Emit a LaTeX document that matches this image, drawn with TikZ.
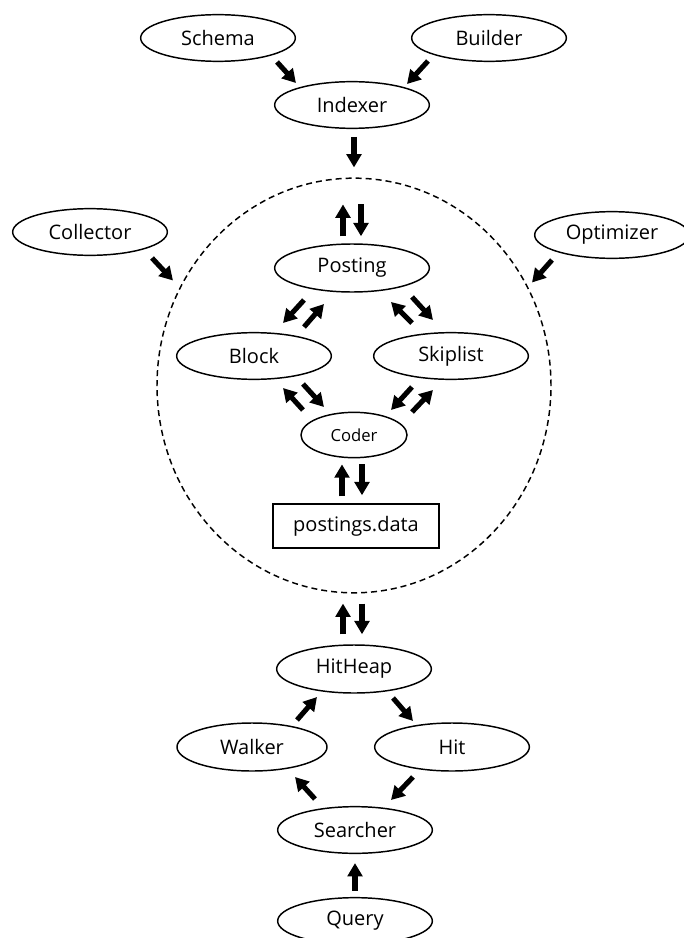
\documentclass[tikz,border=0pt]{standalone}
\usepackage{fontspec}
\setmainfont{Open Sans}
\usepackage{tikz}
\usetikzlibrary{shapes.geometric,arrows.meta}

\begin{document}
\begin{tikzpicture}[x=0.75pt, y=-0.75pt,
    box/.style={ellipse, draw, line width=1.1pt, minimum width=116pt, minimum height=35pt, inner sep=0pt, font=\fontsize{15pt}{18pt}\selectfont},
    filebox/.style={rectangle, draw, line width=1.1pt, minimum width=124.5pt, minimum height=33pt, inner sep=0pt, font=\fontsize{15pt}{18pt}\selectfont},
    arr/.style={-{Triangle[length=10pt,width=11pt]}, line width=3.8pt}]
    \useasboundingbox (0,0) rectangle (683,938);

    % draw nodes
    \node[box] (schema) at (218,38) {Schema};
    \node[box] (builder) at (489,38) {Builder};
    \node[box] (indexer) at (352,105) {Indexer};
    \node[box] (collector) at (90,232) {Collector};
    \node[box] (optimizer) at (612,235) {Optimizer};

    % the store, with what sits in it
    \node[ellipse, draw, dash pattern=on 4.5pt off 3pt, line width=1.1pt, minimum width=295.5pt, minimum height=311pt] (store) at (354,385.5) {};
    \node[box, minimum height=36pt] (posting) at (352,268) {Posting};
    \node[box] (block) at (254,356) {Block};
    \node[box] (skiplist) at (451,356) {Skiplist};
    \node[box, minimum width=79.5pt, minimum height=34pt, font=\fontsize{12.5pt}{15pt}\selectfont] (coder) at (354,435) {Coder};
    \node[filebox] (data) at (356,526) {postings.data};

    % searching
    \node[box, minimum height=36pt] (hitheap) at (354,669) {HitHeap};
    \node[box, minimum width=112.5pt, minimum height=36pt] (walker) at (252,747) {Walker};
    \node[box, minimum height=36pt] (hit) at (452,747) {Hit};
    \node[box] (searcher) at (355,830) {Searcher};
    \node[box] (query) at (355,921) {Query};

    % draw arrows
    \draw[arr] ([shift={(59,24)}]schema.center) -- ([shift={(-56,-22)}]indexer.center);
    \draw[arr] ([shift={(-61,23)}]builder.center) -- ([shift={(55,-21)}]indexer.center);
    \draw[arr] ([shift={(2,32)}]indexer.center) -- ([shift={(0,-10)}]store.north);
    \draw[arr] ([shift={(62,26)}]collector.center) -- ([shift={(-181,-105)}]store.center);
    \draw[arr] ([shift={(-60,25)}]optimizer.center) -- ([shift={(178,-103)}]store.center);

    \draw[arr] ([shift={(-9,-7)}]posting.north) -- ([shift={(-11,27)}]store.north);
    \draw[arr] ([shift={(7,27)}]store.north) -- ([shift={(9,-7)}]posting.north);
    \draw[arr] ([shift={(-48,32)}]posting.center) -- ([shift={(29,-33)}]block.center);
    \draw[arr] ([shift={(50,-29)}]block.center) -- ([shift={(-28,36)}]posting.center);
    \draw[arr] ([shift={(60,29)}]posting.center) -- ([shift={(-18,-36)}]skiplist.center);
    \draw[arr] ([shift={(-39,-33)}]skiplist.center) -- ([shift={(39,34)}]posting.center);
    \draw[arr] ([shift={(49,28)}]block.center) -- ([shift={(-30,-28)}]coder.center);
    \draw[arr] ([shift={(-51,-25)}]coder.center) -- ([shift={(29,32)}]block.center);
    \draw[arr] ([shift={(-39,31)}]skiplist.center) -- ([shift={(37,-25)}]coder.center);
    \draw[arr] ([shift={(58,-23)}]coder.center) -- ([shift={(-18,34)}]skiplist.center);
    \draw[arr] ([shift={(8,6)}]coder.south) -- ([shift={(6,-8)}]data.north);
    \draw[arr] ([shift={(-14,-7)}]data.north) -- ([shift={(-12,6)}]coder.south);

    \draw[arr] ([shift={(-11,-10)}]hitheap.north) -- ([shift={(-11,10)}]store.south);
    \draw[arr] ([shift={(8,10)}]store.south) -- ([shift={(8,-10)}]hitheap.north);
    \draw[arr] ([shift={(45,-27)}]walker.center) -- ([shift={(-37,28)}]hitheap.center);
    \draw[arr] ([shift={(39,29)}]hitheap.center) -- ([shift={(-39,-26)}]hit.center);
    \draw[arr] ([shift={(-39,30)}]hit.center) -- ([shift={(36,-30)}]searcher.center);
    \draw[arr] ([shift={(-40,-31)}]searcher.center) -- ([shift={(43,30)}]walker.center);
    \draw[arr] ([shift={(0,-6)}]query.north) -- ([shift={(0,9)}]searcher.south);
\end{tikzpicture}
\end{document}
